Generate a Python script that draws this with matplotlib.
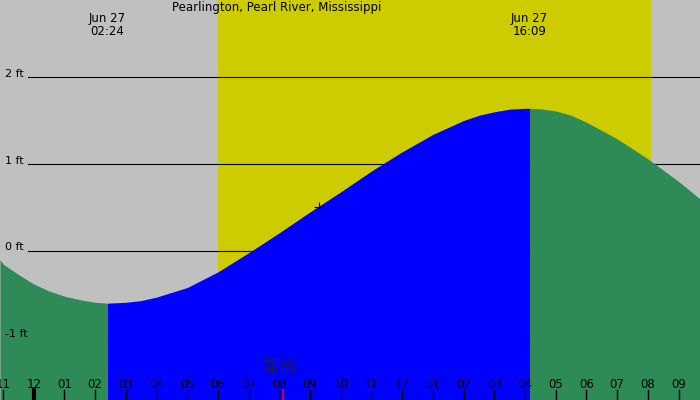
import matplotlib
matplotlib.use("Agg")
import matplotlib.pyplot as plt
import numpy as np

# tide height (ft) at hours since midnight Jun 27
hours = [-1.1, -1, -0.5, 0, 0.5, 1, 1.5, 2, 2.4, 3, 3.5, 4, 5, 6, 7, 8, 9, 10, 11, 12, 13,
         14, 14.5, 15, 15.5, 16, 16.15, 16.5, 17, 17.5, 18, 19, 20, 21, 21.8]
height = [-0.1, -0.15, -0.27, -0.38, -0.46, -0.52, -0.56, -0.59, -0.60, -0.59, -0.57, -0.53,
          -0.42, -0.24, -0.02, 0.21, 0.45, 0.68, 0.92, 1.14, 1.34, 1.50, 1.56, 1.60, 1.63,
          1.64, 1.64, 1.635, 1.61, 1.56, 1.48, 1.29, 1.06, 0.80, 0.57]
low_t, high_t = 2.4, 16.15
day_start, day_end = 6.0, 20.1
moonrise = 8.13
now_t, now_h = 9.3, 0.5
tick_labels = ["11", "12", "01", "02", "03", "04", "05", "06", "07", "08", "09", "10",
               "11", "12", "01", "02", "03", "04", "05", "06", "07", "08", "09"]
tick_hours = list(range(-1, 22))
ft_levels = [-1, 0, 1, 2]

fig = plt.figure(figsize=(7, 4), dpi=100)
ax = fig.add_axes([0, 0, 1, 1])
ax.set_facecolor("#c0c0c0")
ax.set_xlim(-1.1, 21.7)
ax.set_ylim(-1.713, 2.885)
ax.axvspan(day_start, day_end, color="#cccc00", lw=0, zorder=1)

x = np.array(hours)
y = np.array(height)
base = -1.713
mid = (x >= low_t) & (x <= high_t)
ax.fill_between(x, base, y, where=(x <= low_t), color="#2e8b57", lw=0, zorder=3)
ax.fill_between(x, base, y, where=(x >= high_t), color="#2e8b57", lw=0, zorder=3)
ax.fill_between(x, base, y, where=mid, color="#0000ff", lw=0, zorder=3)

for lv in ft_levels:
    ax.plot([-0.2, 21.7], [lv, lv], color="black", lw=0.8, zorder=2)
    ax.text(-0.95, lv + 0.04, f"{lv} ft", fontsize=8, va="center", ha="left", zorder=5)

ax.text(7.9, 2.795, "Pearlington, Pearl River, Mississippi", ha="center", va="center", fontsize=8.5)
ax.text(low_t, 2.6, "Jun 27\n02:24", ha="center", va="center", fontsize=8.5, linespacing=0.95)
ax.text(high_t, 2.6, "Jun 27\n16:09", ha="center", va="center", fontsize=8.5, linespacing=0.95)
ax.text(moonrise - 0.1, -1.33, "Mrise\n08:08", ha="center", va="center", fontsize=8,
        color="#202040", linespacing=0.95, zorder=5)
ax.plot(now_t, now_h, marker="+", color="black", ms=7, mew=0.8, zorder=5)

for h, lab in zip(tick_hours, tick_labels):
    ax.text(h, -1.54, lab, ha="center", va="center", fontsize=8.5, zorder=5)
    ax.plot([h, h], [-1.713, -1.6], color="black", lw=3 if h == 0 else 1, zorder=5)
ax.plot([moonrise, moonrise], [-1.713, -1.6], color="red", lw=1.2, zorder=6)

ax.set_xticks([])
ax.set_yticks([])
for s in ax.spines.values():
    s.set_visible(False)
fig.savefig("out.png", dpi=100)
